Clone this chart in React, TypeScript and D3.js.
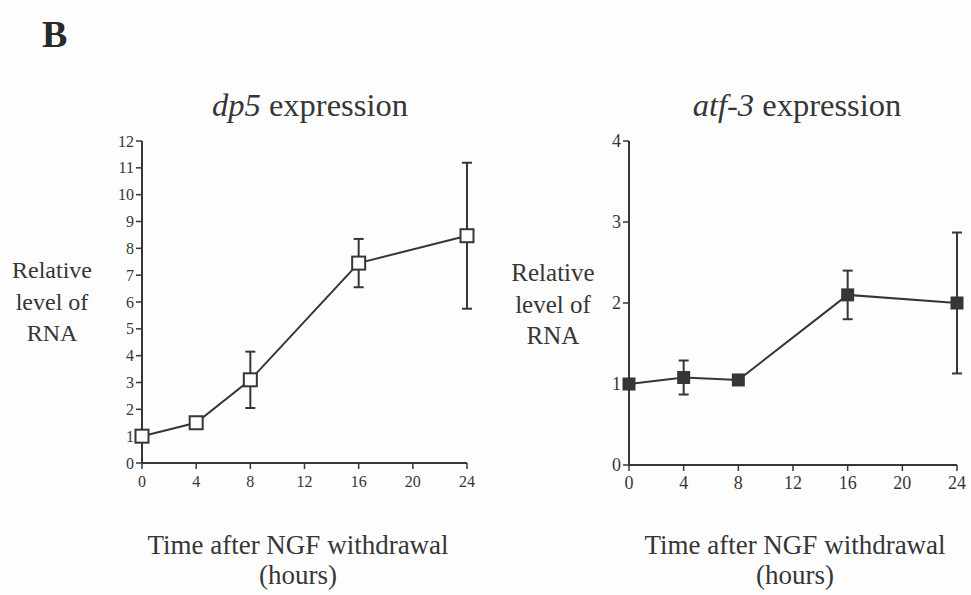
import React from 'react';
import * as d3 from 'd3';

// time points (hours after NGF withdrawal)
const hours = [0, 4, 8, 16, 24];
const xTicks = [0, 4, 8, 12, 16, 20, 24];

// dp5 relative RNA level, mean and error
const dp5Mean = [1.0, 1.5, 3.1, 7.45, 8.47];
const dp5Err = [0, 0, 1.05, 0.9, 2.72];
const dp5Ticks = [0, 1, 2, 3, 4, 5, 6, 7, 8, 9, 10, 11, 12];

// atf-3 relative RNA level, mean and error
const atfMean = [1.0, 1.08, 1.05, 2.1, 2.0];
const atfErr = [0, 0.21, 0.02, 0.3, 0.87];
const atfTicks = [0, 1, 2, 3, 4];

const yLabelLines = ['Relative', 'level of', 'RNA'];
const xLabelLines = ['Time after NGF withdrawal', '(hours)'];

const ink = '#363636';
const serif = '"Liberation Serif"';
const txt = { fontFamily: serif };
const itx = { fontFamily: serif, fontStyle: 'italic' as const };

type PanelProps = {
  left: number; right: number; top: number; bottom: number;
  means: number[]; errs: number[]; yTicks: number[]; yMax: number;
  filled: boolean; tickFont: number; markerSize: number;
};

const Panel = ({ left, right, top, bottom, means, errs, yTicks, yMax, filled, tickFont, markerSize }: PanelProps) => {
  const x = d3.scaleLinear().domain([0, 24]).range([left, right]);
  const y = d3.scaleLinear().domain([0, yMax]).range([bottom, top]);
  const pts = hours.map((h, i) => ({ h, m: means[i], e: errs[i] }));
  const line = d3.line<{ h: number; m: number }>().x(d => x(d.h)).y(d => y(d.m));
  const cap = 5;
  return (
    <g>
      {/* axes */}
      <line x1={x(0)} x2={x(0)} y1={y(0)} y2={y(yMax)} stroke={ink} strokeWidth={2} />
      <line x1={x(0)} x2={x(24)} y1={y(0)} y2={y(0)} stroke={ink} strokeWidth={2} />
      {yTicks.map(t => (
        <g key={'y' + t}>
          <line x1={x(0) - 6} x2={x(0)} y1={y(t)} y2={y(t)} stroke={ink} strokeWidth={1.5} />
          <text style={txt} x={x(0) - 8} y={y(t) + tickFont * 0.35} textAnchor="end" fontSize={tickFont} fill={ink}>{t}</text>
        </g>
      ))}
      {xTicks.map(t => (
        <g key={'x' + t}>
          <line x1={x(t)} x2={x(t)} y1={y(0)} y2={y(0) + 6} stroke={ink} strokeWidth={1.5} />
          <text style={txt} x={x(t)} y={y(0) + 24} textAnchor="middle" fontSize={tickFont} fill={ink}>{t}</text>
        </g>
      ))}
      {/* error bars */}
      {pts.filter(p => p.e > 0).map(p => (
        <g key={'e' + p.h} stroke={ink} strokeWidth={2}>
          <line x1={x(p.h)} x2={x(p.h)} y1={y(p.m + p.e)} y2={y(p.m - p.e)} />
          <line x1={x(p.h) - cap} x2={x(p.h) + cap} y1={y(p.m + p.e)} y2={y(p.m + p.e)} />
          <line x1={x(p.h) - cap} x2={x(p.h) + cap} y1={y(p.m - p.e)} y2={y(p.m - p.e)} />
        </g>
      ))}
      <path d={line(pts) || ''} fill="none" stroke={ink} strokeWidth={2} />
      {pts.map(p => (
        <rect key={'m' + p.h} x={x(p.h) - markerSize / 2} y={y(p.m) - markerSize / 2}
          width={markerSize} height={markerSize}
          fill={filled ? ink : '#fdfdfd'} stroke={ink} strokeWidth={2} />
      ))}
    </g>
  );
};

const YLabel = ({ cx, y0, size }: { cx: number; y0: number; size: number }) => (
  <g>
    {yLabelLines.map((s, i) => (
      <text key={s} style={txt} x={cx} y={y0 + i * 31.5} textAnchor="middle" fontSize={size} fill={ink}>{s}</text>
    ))}
  </g>
);

const XLabel = ({ cx }: { cx: number }) => (
  <g>
    {xLabelLines.map((s, i) => (
      <text key={s} style={txt} x={cx} y={554 + i * 30} textAnchor="middle" fontSize={27} fill={ink}>{s}</text>
    ))}
  </g>
);

const Title = ({ cx, gene }: { cx: number; gene: string }) => (
  <text style={txt} x={cx} y={116} textAnchor="middle" fontSize={32.5} fill={ink}>
    <tspan style={itx}>{gene}</tspan>
    <tspan style={txt}> expression</tspan>
  </text>
);

export default function App() {
  return (
    <svg width={971} height={595} style={{ position: 'absolute', left: 0, top: 0, background: '#fdfdfd' }}>
      <text style={{ fontFamily: serif, fontWeight: 'bold' }} x={42} y={47} fontSize={38} fill="#2a2a2a">B</text>

      <Title cx={310} gene="dp5" />
      <Title cx={797} gene="atf-3" />

      <YLabel cx={52} y0={278} size={24} />
      <YLabel cx={553} y0={281} size={25} />

      <Panel left={142} right={467} top={141} bottom={463}
        means={dp5Mean} errs={dp5Err} yTicks={dp5Ticks} yMax={12}
        filled={false} tickFont={16} markerSize={13} />
      <Panel left={629} right={957} top={141} bottom={465}
        means={atfMean} errs={atfErr} yTicks={atfTicks} yMax={4}
        filled={true} tickFont={18} markerSize={11} />

      <XLabel cx={298} />
      <XLabel cx={795} />
    </svg>
  );
}
